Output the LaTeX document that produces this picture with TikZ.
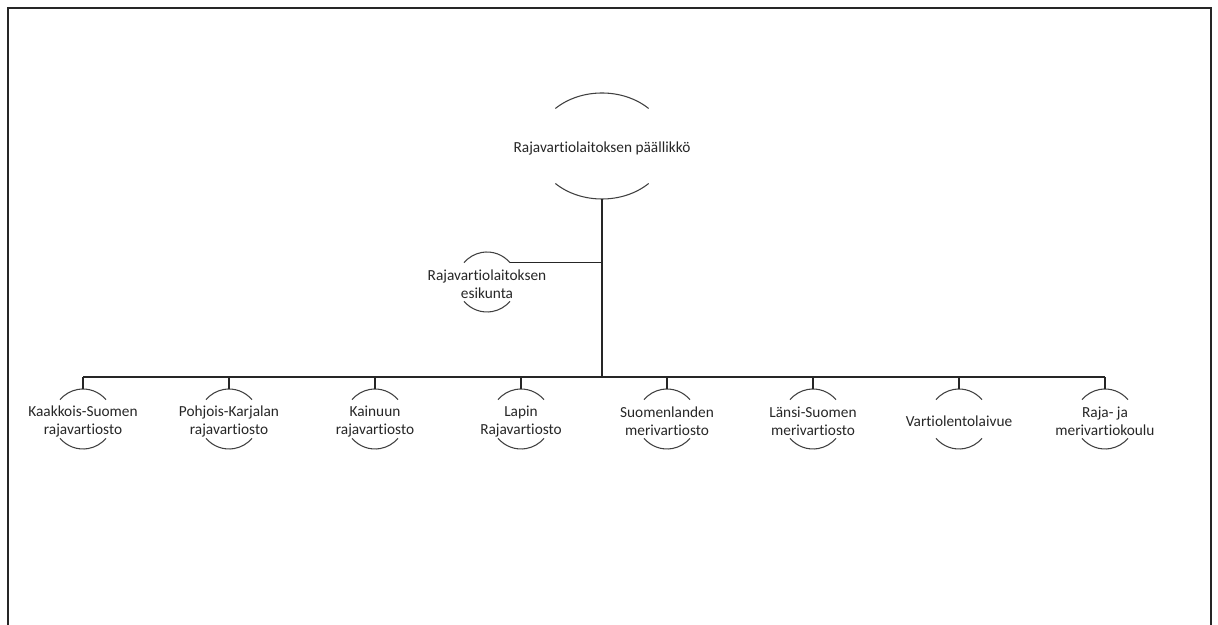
\documentclass[tikz,border=0pt]{standalone}
\usepackage{fontspec}
\setmainfont{Carlito}[Ligatures=NoCommon]
\usetikzlibrary{calc,shapes.geometric}
\tikzset{
  caption/.style={align=center, inner sep=0pt, text=black!85, yshift=-1.8pt,
    font=\fontsize{11.5}{13.2}\selectfont},
  unit/.style={circle, minimum size=45pt, inner sep=0pt},
  head/.style={ellipse, minimum width=99pt, minimum height=79.5pt, inner sep=0pt},
  rim/.style={draw=black!75, line width=0.8pt},
  link/.style={draw=black!85, line width=0.9pt},
}
\begin{document}
\begin{tikzpicture}[x=0.75pt, y=0.75pt]
  \useasboundingbox (0,0) rectangle (1218,625);
  \draw[black!85, line width=1pt] (8,0) -- (8,617) -- (1211,617) -- (1211,0);

  \node[head, label={[caption]center:Rajavartiolaitoksen päällikkö}] (chief) at (602,479) {};
  \node[unit, label={[caption]center:{Rajavartiolaitoksen\\esikunta}}] (staff) at (487,343) {};
  \coordinate (bus) at (602,248);

  \foreach \name [count=\i] in {{Kaakkois-Suomen\\rajavartiosto},{Pohjois-Karjalan\\rajavartiosto},
      {Kainuun\\rajavartiosto},{Lapin\\Rajavartiosto},{Suomenlanden\\merivartiosto},
      {Länsi-Suomen\\merivartiosto},{Vartiolentolaivue},{Raja- ja\\merivartiokoulu}}
    \node[unit, label={[caption]center:{\name}}] (u\i) at ({83+146*(\i-1)},206) {};

  % arcs above and below the texts
  \draw[rim] ($(chief)+(45:66 and 53)$) arc[start angle=45, end angle=135, x radius=66, y radius=53];
  \draw[rim] ($(chief)+(225:66 and 53)$) arc[start angle=225, end angle=315, x radius=66, y radius=53];
  \foreach \n in {staff,u1,u2,u3,u4,u5,u6,u7,u8}{
    \draw[rim] ($(\n)+(40:30)$) arc[start angle=40, end angle=140, radius=30];
    \draw[rim] ($(\n)+(220:30)$) arc[start angle=220, end angle=320, radius=30];
  }

  % connectors
  \draw[link, line width=1.4pt] (chief.south) -- (chief.south |- bus);
  \draw[link] (staff.40) -- (staff.40 -| chief.south);
  \draw[link] (u1.north |- bus) -- (u8.north |- bus);
  \foreach \i in {1,...,8}
    \draw[link] (u\i.north) -- (u\i.north |- bus);
\end{tikzpicture}
\end{document}
